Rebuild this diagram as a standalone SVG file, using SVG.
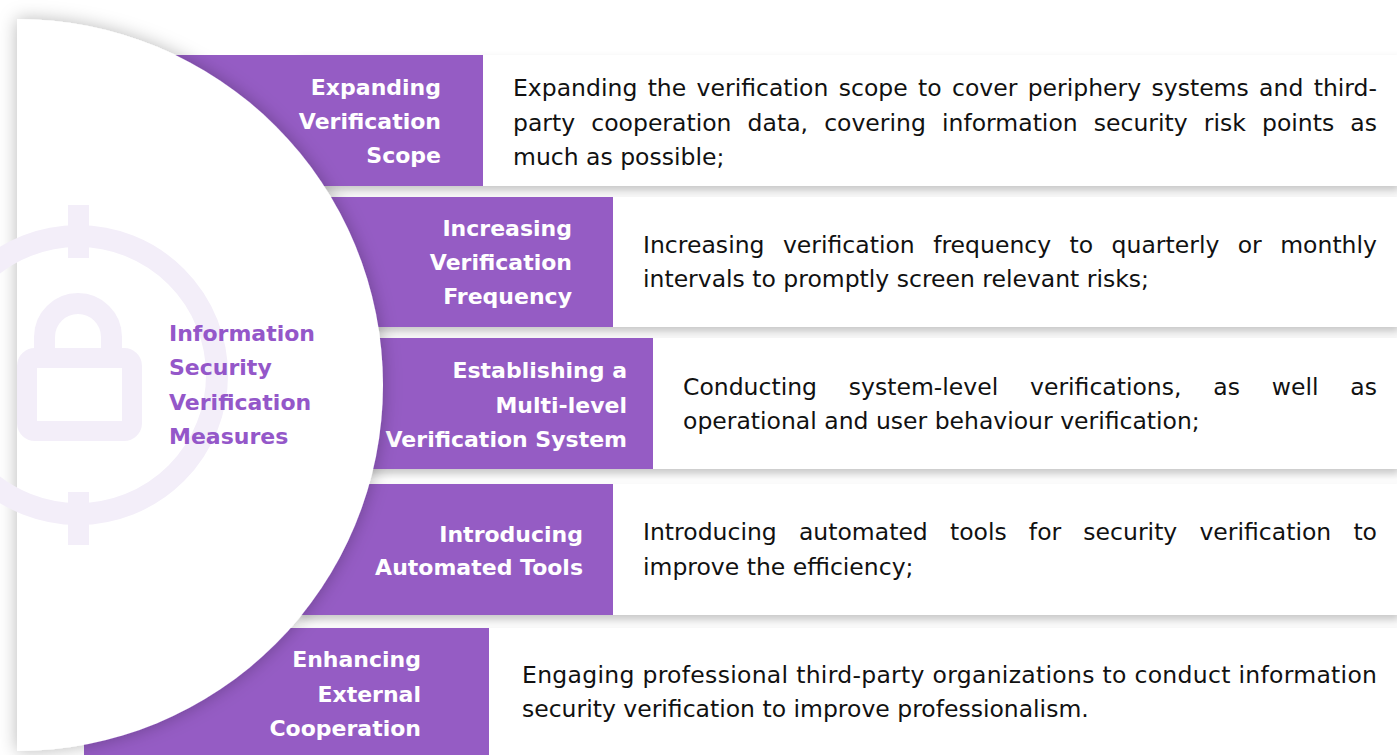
<svg xmlns="http://www.w3.org/2000/svg" width="1397" height="755" viewBox="0 0 1397 755">
<defs>
<filter id="boxShadow" x="-5%" y="-30%" width="110%" height="160%">
<feDropShadow dx="0" dy="5" stdDeviation="4" flood-color="#000" flood-opacity="0.22"/>
</filter>
<filter id="circleShadow" x="-20%" y="-10%" width="140%" height="120%">
<feDropShadow dx="0" dy="0" stdDeviation="9" flood-color="#000" flood-opacity="0.28"/>
</filter>
<style>
.band{fill:#955CC4;}
.box{fill:#ffffff;filter:url(#boxShadow);}
.lbl{font-family:"DejaVu Sans",sans-serif;font-weight:bold;font-size:22px;fill:#ffffff;text-anchor:end;}
.desc{font-family:"DejaVu Sans",sans-serif;font-size:23.5px;fill:#111111;}
.ctitle{font-family:"DejaVu Sans",sans-serif;font-weight:bold;font-size:22px;fill:#9457C9;}
.icon{fill:none;stroke:#F3EEF9;}
.iconf{fill:#F3EEF9;}
</style>
</defs>
<rect x="0" y="0" width="1397" height="755" fill="#ffffff"/>

<g id="connectors"></g>

<g id="node-1">
<rect class="box" x="300" y="55" width="1100" height="131"/>
<rect class="band" x="100" y="55" width="383" height="131"/>
<text class="lbl"><tspan x="441" y="95">Expanding</tspan><tspan x="441" y="129">Verification</tspan><tspan x="441" y="163">Scope</tspan></text>
<text class="desc" x="513" y="96" word-spacing="2.87" textLength="864" lengthAdjust="spacing">Expanding the verification scope to cover periphery systems and third-</text>
<text class="desc" x="513" y="131" word-spacing="8.64" textLength="864" lengthAdjust="spacing">party cooperation data, covering information security risk points as</text>
<text class="desc" x="513" y="165">much as possible;</text>
</g>

<g id="node-2">
<rect class="box" x="300" y="197" width="1100" height="130"/>
<rect class="band" x="100" y="197" width="513" height="130"/>
<text class="lbl"><tspan x="572" y="236">Increasing</tspan><tspan x="572" y="270">Verification</tspan><tspan x="572" y="304">Frequency</tspan></text>
<text class="desc" x="643" y="253" word-spacing="10.86" textLength="734" lengthAdjust="spacing">Increasing verification frequency to quarterly or monthly</text>
<text class="desc" x="643" y="287">intervals to promptly screen relevant risks;</text>
</g>

<g id="node-3">
<rect class="box" x="300" y="338" width="1100" height="131"/>
<rect class="band" x="100" y="338" width="553" height="131"/>
<text class="lbl"><tspan x="627" y="378">Establishing a</tspan><tspan x="627" y="413">Multi-level</tspan><tspan x="627" y="447">Verification System</tspan></text>
<text class="desc" x="683" y="395" word-spacing="24.37" textLength="694" lengthAdjust="spacing">Conducting system-level verifications, as well as</text>
<text class="desc" x="683" y="429">operational and user behaviour verification;</text>
</g>

<g id="node-4">
<rect class="box" x="300" y="484" width="1100" height="131"/>
<rect class="band" x="100" y="484" width="513" height="131"/>
<text class="lbl"><tspan x="583" y="542">Introducing</tspan><tspan x="583" y="575">Automated Tools</tspan></text>
<text class="desc" x="643" y="540" word-spacing="14.66" textLength="734" lengthAdjust="spacing">Introducing automated tools for security verification to</text>
<text class="desc" x="643" y="575">improve the efficiency;</text>
</g>

<g id="node-5">
<rect class="box" x="300" y="628" width="1100" height="140"/>
<rect class="band" x="84" y="628" width="405" height="140"/>
<text class="lbl"><tspan x="421" y="667">Enhancing</tspan><tspan x="421" y="702">External</tspan><tspan x="421" y="736">Cooperation</tspan></text>
<text class="desc" x="522" y="683" textLength="855" lengthAdjust="spacing">Engaging professional third-party organizations to conduct information</text>
<text class="desc" x="522" y="717">security verification to improve professionalism.</text>
</g>

<g id="node-center">
<path d="M17,19 A366,366 0 0 1 17,751 Z" fill="#ffffff" filter="url(#circleShadow)"/>
<g id="icon">
<circle class="icon" cx="78" cy="375" r="139" stroke-width="22"/>
<rect class="iconf" x="68" y="205" width="21" height="53"/>
<rect class="iconf" x="68" y="492" width="21" height="53"/>
<path class="icon" d="M44.5,350 V337 A33.5,33.5 0 0 1 111.5,337 V350" stroke-width="21"/>
<rect class="icon" x="27" y="358" width="105" height="73" rx="8" stroke-width="20"/>
</g>
<text class="ctitle"><tspan x="169" y="341">Information</tspan><tspan x="169" y="375">Security</tspan><tspan x="169" y="410">Verification</tspan><tspan x="169" y="444">Measures</tspan></text>
</g>
</svg>
